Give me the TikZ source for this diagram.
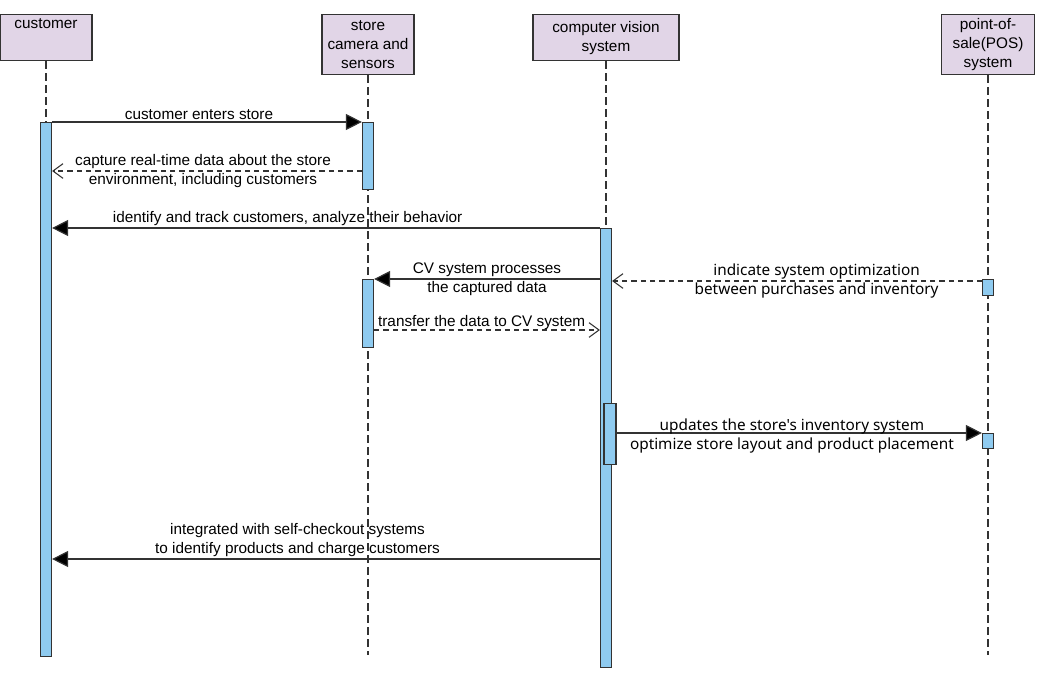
\documentclass[tikz,border=0pt]{standalone}
\usepackage{fontspec}
\setmainfont{Liberation Sans}
\newfontfamily\notofont{Noto Sans}
\usetikzlibrary{arrows.meta}
\definecolor{headfill}{RGB}{225,213,231}
\definecolor{barfill}{RGB}{143,203,240}
\definecolor{linegray}{RGB}{51,51,51}

\begin{document}
\begin{tikzpicture}[x=0.75pt,y=-0.75pt,
  every node/.style={font=\fontsize{11.5}{14.25}\selectfont,inner sep=1pt},
  head/.style={draw=linegray,fill=headfill,line width=0.9pt,anchor=north,
    align=center,inner xsep=0pt,inner ysep=2pt},
  life/.style={draw=linegray,line width=0.9pt,dash pattern=on 6pt off 3pt},
  bar/.style={draw=linegray,fill=barfill,line width=0.9pt,anchor=north,
    minimum width=8.25pt,inner sep=0pt},
  call/.style={draw=linegray,line width=0.9pt,-{Triangle[length=12pt,width=12pt,fill=black]}},
  reply/.style={draw=linegray,line width=0.9pt,dash pattern=on 4pt off 3pt,
    -{Straight Barb[length=7.5pt,width=11pt,line width=0.8pt]}},
  lbl/.style={align=center}]
\useasboundingbox (0,0) rectangle (1050,694);

\node[head,minimum width=69pt,minimum height=34.5pt,text height=8.5pt,text depth=22pt] (cust) at (46,14) {customer};
\node[head,minimum width=69pt,minimum height=45pt] (cam) at (368,14) {store\\camera and\\sensors};
\node[head,minimum width=109.5pt,minimum height=34.5pt] (cv) at (606,14) {computer vision\\system};
\node[head,minimum width=69.75pt,minimum height=45pt] (pos) at (988,14) {point-of-\\sale(POS)\\system};

\coordinate (end) at (0,655);
\foreach \n in {cust,cam,cv,pos}
  \draw[life] (\n.south) -- (\n.south |- end);

\node[bar,minimum height=400.5pt] (custbar) at (46,122) {};
\node[bar,minimum height=50.25pt] (cambar1) at (368,122) {};
\node[bar,minimum height=51pt] (cambar2) at (368,279) {};
\node[bar,minimum height=329.25pt] (cvbar) at (606,228) {};
\node[bar,minimum height=45.75pt,minimum width=9pt] (cvbar2) at (610,403) {};
\node[bar,minimum height=12pt] (posbar1) at (988,279) {};
\node[bar,minimum height=11.25pt] (posbar2) at (988,433) {};

\coordinate (m2) at (0,171);
\coordinate (m5) at (0,281);
\coordinate (m6) at (0,330);
\coordinate (m8) at (0,559);

\draw[call] (custbar.north east) -- (cambar1.north west)
  node[midway,above,xshift=-6pt] {customer enters store};
\draw[reply] (cambar1.west |- m2) -- (custbar.east |- m2)
  node[midway,lbl,xshift=-3pt] {capture real-time data about the store\\environment, including customers};
\draw[call] (cvbar.north west) -- (custbar.east |- cvbar.north)
  node[pos=0.57,above] {identify and track customers, analyze their behavior};
\draw[call] (cvbar.west |- cambar2.north) -- (cambar2.north east)
  node[midway,lbl] {CV system processes\\the captured data};
\draw[reply] (posbar1.west |- m5) -- (cvbar.east |- m5)
  node[pos=0.447,lbl,font=\notofont\fontsize{11.5}{14.25}\selectfont] {indicate system optimization\\between purchases and inventory};
\draw[reply] (cambar2.east |- m6) -- (cvbar.west |- m6)
  node[midway,above,inner sep=0pt,xshift=-4pt] {transfer the data to CV system};
\draw[call] (cvbar2.east |- posbar2.north) -- (posbar2.north west)
  node[pos=0.48,lbl,yshift=-2pt,font=\notofont\fontsize{11.5}{14.25}\selectfont] {updates the store's inventory system\\optimize store layout and product placement};
\draw[call] (cvbar.west |- m8) -- (custbar.east |- m8)
  node[pos=0.552,above,lbl] {integrated with self-checkout systems\\to identify products and charge customers};
\end{tikzpicture}
\end{document}
